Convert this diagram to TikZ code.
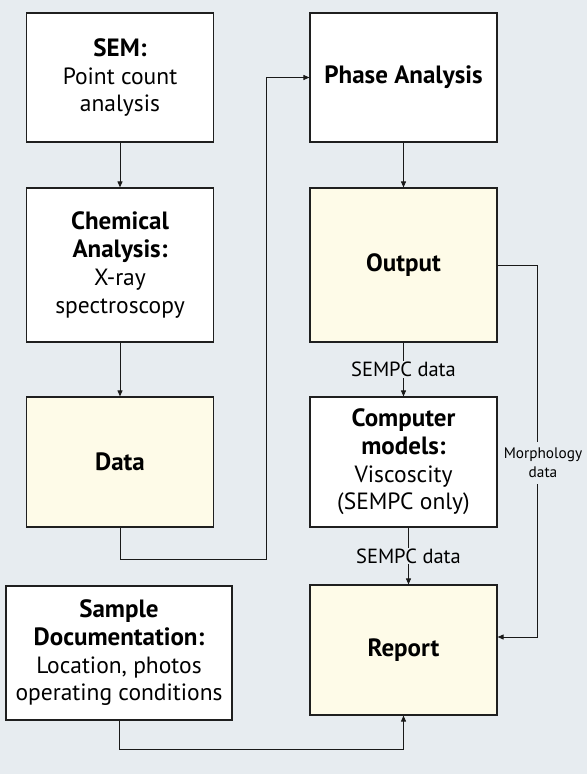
\documentclass[tikz,border=0pt]{standalone}
\usepackage{fontspec}
\setmainfont{PT Sans}
\usetikzlibrary{arrows.meta}
\definecolor{bg}{HTML}{E7ECF0}
\definecolor{cream}{HTML}{FEFBE8}
\newcommand{\hd}[1]{{\fontsize{25}{27.7}\selectfont\bfseries #1}}
\begin{document}
\begin{tikzpicture}[x=1pt,y=-1pt,
  box/.style={draw=black!88, line width=1.2pt, fill=white, minimum width=187pt,
    align=center, inner sep=0pt, font=\fontsize{23.5}{27.7}\selectfont},
  hl/.style={box, fill=cream},
  conn/.style={draw=black!90, line width=0.9pt},
  arr/.style={conn, -{Triangle[length=6pt,width=5pt]}},
  lbl/.style={fill=bg, inner xsep=1pt, inner ysep=1pt, font=\fontsize{20.5}{22}\selectfont},
  mlbl/.style={fill=bg, inner xsep=1pt, inner ysep=6pt, align=center, font=\fontsize{15.3}{18.5}\selectfont}]
\fill[bg] (0,0) rectangle (587,774);
\useasboundingbox (0,0) rectangle (587,774);
% left column
\node[box, minimum height=129pt] (sem) at (120,77.5) {\hd{SEM:}\\Point count\\analysis};
\node[box, minimum height=154pt] (chem) at (120,265) {\hd{Chemical}\\\hd{Analysis:}\\X-ray\\spectroscopy};
\node[hl, minimum height=130pt] (data) at (120,462) {\hd{Data}};
\node[box, minimum width=226pt, minimum height=134pt] (sample) at (119,653) {\hd{Sample}\\\hd{Documentation:}\\Location, photos\\operating conditions};
% right column
\node[box, minimum height=129pt] (phase) at (403.5,77.5) {\hd{Phase Analysis}};
\node[hl, minimum height=154pt] (output) at (403.5,265) {\hd{Output}};
\node[box, minimum height=130pt] (comp) at (403.5,462) {\hd{Computer}\\\hd{models:}\\Viscoscity\\(SEMPC only)};
\node[hl, minimum height=130pt] (report) at (403.5,650) {\hd{Report}};
% junctions
\coordinate (j1) at (266,559);
\coordinate (m1) at (537,637);
\coordinate (b1) at (403.5,749);
% connectors
\draw[arr] (sem) -- (chem);
\draw[arr] (chem) -- (data);
\draw[arr] (data.south) |- (j1) |- (phase.west);
\draw[arr] (phase) -- (output);
\draw[arr] (output) -- node[lbl]{SEMPC data} (comp);
\draw[arr] ([xshift=5pt]comp.south) -- node[lbl]{SEMPC data} ([xshift=5pt]report.north);
\draw[arr] (output.east) -- (output.east -| m1) -- node[mlbl, pos=0.532, xshift=6pt]{Morphology\\data} (m1) -- (m1 -| report.east);
\draw[arr] (sample.south) |- (b1) -- (report.south);
\end{tikzpicture}
\end{document}
